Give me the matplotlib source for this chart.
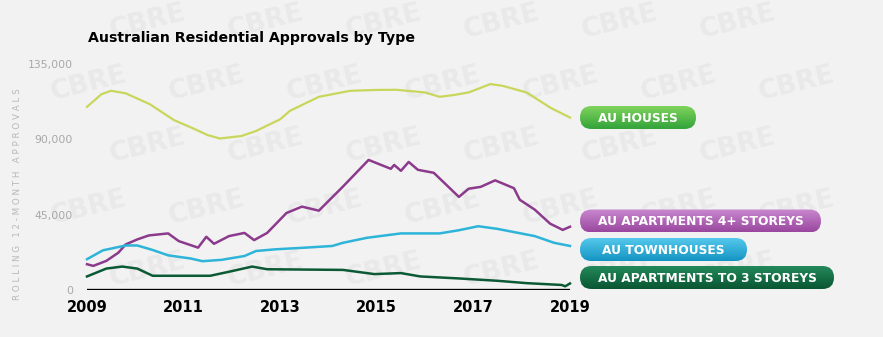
import numpy as np
import matplotlib.pyplot as plt
from matplotlib.colors import to_rgb
from matplotlib.patches import FancyBboxPatch

# values (fractional years, approvals)
houses_t = [2009.0, 2009.3, 2009.5, 2009.8, 2010.3, 2010.8, 2011.2, 2011.5, 2011.75, 2012.2,
            2012.5, 2013.0, 2013.2, 2013.8, 2014.45, 2015.0, 2015.4, 2016.0, 2016.3, 2016.6,
            2016.9, 2017.35, 2017.6, 2018.1, 2018.6, 2019.0]
houses = [109400, 117000, 119000, 117500, 111000, 101500, 96500, 92500, 90500, 92000,
          95000, 102000, 107000, 115400, 119000, 119500, 119600, 118000, 115400, 116500,
          118000, 123000, 122000, 118000, 108800, 103000]

apt4_t = [2009.0, 2009.13, 2009.4, 2009.65, 2009.8, 2010.04, 2010.28, 2010.68, 2010.9, 2011.3,
          2011.47, 2011.63, 2011.94, 2012.26, 2012.46, 2012.73, 2013.13, 2013.45, 2013.8, 2014.3,
          2014.83, 2015.29, 2015.36, 2015.5, 2015.66, 2015.85, 2016.18, 2016.7, 2016.9, 2017.15,
          2017.45, 2017.84, 2017.96, 2018.27, 2018.59, 2018.85, 2019.0]
apt4 = [15400, 14400, 17400, 22300, 27200, 30200, 32600, 33800, 29200, 25300,
        31800, 27600, 32200, 34100, 29800, 34100, 46000, 49800, 47400, 61800,
        77700, 72400, 74700, 71200, 76500, 71800, 70000, 55600, 60500, 61600,
        65500, 60800, 53900, 48000, 39600, 35900, 37800]

town_t = [2009.0, 2009.33, 2009.8, 2010.04, 2010.36, 2010.68, 2011.15, 2011.39, 2011.78, 2012.26,
          2012.5, 2012.9, 2013.52, 2014.08, 2014.3, 2014.8, 2015.5, 2016.3, 2016.7, 2017.1,
          2017.5, 2018.27, 2018.67, 2019.0]
town = [18400, 23700, 26600, 26600, 23900, 20700, 18800, 17200, 18000, 20300,
        23300, 24300, 25300, 26300, 28200, 31200, 33800, 33800, 35700, 38100,
        36500, 32200, 28200, 26300]

apt3_t = [2009.0, 2009.4, 2009.73, 2010.04, 2010.36, 2011.55, 2011.94, 2012.42, 2012.73, 2014.3,
          2014.95, 2015.5, 2015.9, 2016.7, 2017.5, 2018.1, 2018.83, 2018.9, 2019.0]
apt3 = [8100, 12800, 14000, 12800, 8500, 8500, 10900, 14000, 12400, 12000,
        9500, 10100, 8100, 6900, 5500, 4100, 3000, 2200, 3900]

year_ticks = [2009, 2011, 2013, 2015, 2017, 2019]
value_ticks = [0, 45000, 90000, 135000]

labels = ["AU HOUSES", "AU APARTMENTS 4+ STOREYS", "AU TOWNHOUSES", "AU APARTMENTS TO 3 STOREYS"]
line_colors = ["#c9d65b", "#8b3a8c", "#2db4d8", "#0c5a35"]
box_top = ["#80d35c", "#c988cf", "#55c8ec", "#23895a"]
box_bot = ["#32a33a", "#9a479f", "#1494c2", "#0a5632"]

bg = "#f2f2f2"
W, H = 883, 337
fig = plt.figure(figsize=(W / 100, H / 100), dpi=100, facecolor=bg)

# background layer with CBRE watermark (pixel coords)
bgax = fig.add_axes([0, 0, 1, 1], zorder=-1)
bgax.set_xlim(0, W)
bgax.set_ylim(H, 0)
bgax.axis("off")
for row in range(-1, 7):
    for col in range(-1, 9):
        x = 30 + col * 118 + (59 if row % 2 else 0)
        y = 22 + row * 62
        if 40 < x < W - 40 and 18 < y < H - 18:
            bgax.text(x, y, "CBRE", fontsize=19, fontweight="bold", color="#e9e9e9",
                      rotation=14, ha="center", va="center")

ax = fig.add_axes([87 / W, 1 - 290 / H, (570 - 87) / W, (290 - 64) / H], zorder=1)
ax.patch.set_alpha(0)

ax.plot(houses_t, houses, color=line_colors[0], lw=1.6, clip_on=False)
ax.plot(apt4_t, apt4, color=line_colors[1], lw=1.8, clip_on=False)
ax.plot(town_t, town, color=line_colors[2], lw=1.8, clip_on=False)
ax.plot(apt3_t, apt3, color=line_colors[3], lw=1.8, clip_on=False)
ax.axhline(0, color="black", lw=2.4)

ax.set_xlim(2009, 2019)
ax.set_ylim(0, 135000)
ax.set_xticks(year_ticks)
ax.set_xticklabels([str(y) for y in year_ticks], fontsize=10.5, fontweight="bold")
ax.set_yticks(value_ticks)
ax.set_yticklabels([f"{v:,}" for v in value_ticks], fontsize=7.8, color="#a8a8a8")
ax.tick_params(length=0, axis="x", pad=7)
ax.tick_params(length=0, axis="y", pad=10)
for s in ax.spines.values():
    s.set_visible(False)

# overlay in pixel coords for title, axis label and label pills
ov = fig.add_axes([0, 0, 1, 1], zorder=2)
ov.set_xlim(0, W)
ov.set_ylim(H, 0)
ov.axis("off")

ov.text(88, 38, "Australian Residential Approvals by Type", fontsize=10.2,
        fontweight="bold", ha="left", va="center")
ov.text(18, 194, "R O L L I N G   1 2 - M O N T H   A P P R O V A L S", fontsize=6.3,
        color="#b8b8b8", rotation=90, ha="center", va="center")

box_x = 580
box_w = [116, 241, 167, 254]
box_cy = [117.5, 221, 249.5, 277.5]
box_h = 23
grad = np.linspace(0, 1, 50)[:, None, None]
for lab, ct, cb, w, cy in zip(labels, box_top, box_bot, box_w, box_cy):
    p = FancyBboxPatch((box_x, cy - box_h / 2), w, box_h,
                       boxstyle=f"round,pad=0,rounding_size={box_h / 2}",
                       facecolor="none", edgecolor="none")
    ov.add_patch(p)
    c1 = np.array(to_rgb(ct))[None, None, :]
    c2 = np.array(to_rgb(cb))[None, None, :]
    img = np.repeat(c1 * (1 - grad) + c2 * grad, 2, axis=1)
    im = ov.imshow(img, extent=(box_x, box_x + w, cy + box_h / 2, cy - box_h / 2),
                   aspect="auto", interpolation="bilinear", zorder=3)
    im.set_clip_path(p)
    ov.text(box_x + w / 2, cy + 0.5, lab, fontsize=8.8, fontweight="bold", color="white",
            ha="center", va="center", zorder=4)

ov.set_xlim(0, W)
ov.set_ylim(H, 0)

fig.savefig("out.png", dpi=100, facecolor=bg)
